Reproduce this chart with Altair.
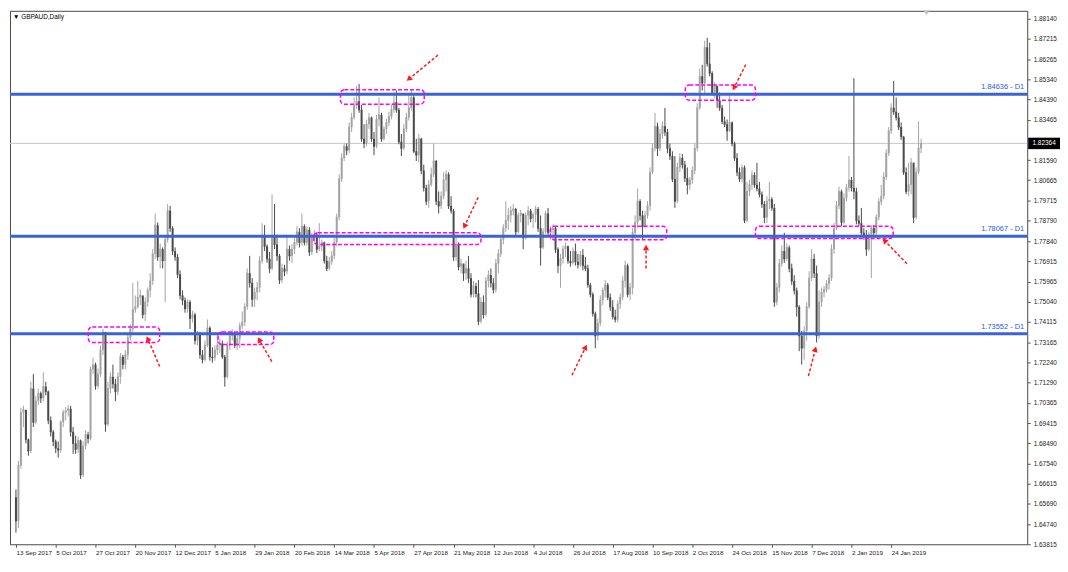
import json
import math
import altair as alt
import pandas as pd

# ---------------- data ----------------
first_open = 1.6599
closes = [
    1.6489, 1.6746, 1.6991, 1.7004, 1.6866, 1.6813, 1.7102, 1.6946, 1.7044, 1.7080,
    1.7058, 1.7111, 1.7088, 1.6955, 1.6902, 1.6857, 1.6826, 1.6817, 1.6946, 1.6991,
    1.6999, 1.7008, 1.6902, 1.6848, 1.6821, 1.6862, 1.6702, 1.6835, 1.6889, 1.6871,
    1.7191, 1.7213, 1.7115, 1.7169, 1.7280, 1.7364, 1.6937, 1.7102, 1.7156, 1.7124,
    1.7088, 1.7156, 1.7249, 1.7213, 1.7258, 1.7337, 1.7378, 1.7467, 1.7480, 1.7524,
    1.7533, 1.7444, 1.7502, 1.7556, 1.7600, 1.7725, 1.7858, 1.7711, 1.7747, 1.7693,
    1.7791, 1.7925, 1.7844, 1.7738, 1.7711, 1.7631, 1.7533, 1.7511, 1.7471, 1.7502,
    1.7426, 1.7444, 1.7324, 1.7355, 1.7258, 1.7236, 1.7302, 1.7382, 1.7249, 1.7245,
    1.7280, 1.7302, 1.7310, 1.7249, 1.7156, 1.7302, 1.7346, 1.7355, 1.7302, 1.7333,
    1.7391, 1.7408, 1.7480, 1.7636, 1.7591, 1.7515, 1.7547, 1.7569, 1.7693, 1.7805,
    1.7760, 1.7702, 1.7658, 1.7809, 1.7769, 1.7716, 1.7604, 1.7658, 1.7645, 1.7747,
    1.7716, 1.7747, 1.7778, 1.7827, 1.7778, 1.7853, 1.7778, 1.7836, 1.7734, 1.7800,
    1.7814, 1.7747, 1.7760, 1.7778, 1.7693, 1.7658, 1.7689, 1.7716, 1.7778, 1.7894,
    1.8072, 1.8169, 1.8223, 1.8205, 1.8312, 1.8356, 1.8414, 1.8431, 1.8392, 1.8258,
    1.8236, 1.8325, 1.8356, 1.8258, 1.8223, 1.8347, 1.8369, 1.8258, 1.8303, 1.8333,
    1.8360, 1.8392, 1.8427, 1.8392, 1.8244, 1.8214, 1.8303, 1.8356, 1.8401, 1.8449,
    1.8200, 1.8182, 1.8258, 1.8111, 1.8031, 1.7969, 1.8045, 1.8094, 1.8155, 1.7969,
    1.7947, 1.7992, 1.8067, 1.8094, 1.7947, 1.7925, 1.7711, 1.7769, 1.7666, 1.7680,
    1.7636, 1.7658, 1.7613, 1.7538, 1.7577, 1.7542, 1.7413, 1.7502, 1.7444, 1.7600,
    1.7627, 1.7591, 1.7560, 1.7680, 1.7725, 1.7791, 1.7844, 1.7880, 1.7903, 1.7925,
    1.7933, 1.7827, 1.7903, 1.7912, 1.7800, 1.7903, 1.7925, 1.7889, 1.7907, 1.7933,
    1.7844, 1.7755, 1.7827, 1.7912, 1.7823, 1.7836, 1.7844, 1.7747, 1.7671, 1.7702,
    1.7747, 1.7760, 1.7693, 1.7684, 1.7738, 1.7689, 1.7675, 1.7720, 1.7671, 1.7658,
    1.7582, 1.7538, 1.7449, 1.7346, 1.7404, 1.7511, 1.7556, 1.7582, 1.7524, 1.7480,
    1.7435, 1.7422, 1.7493, 1.7524, 1.7600, 1.7671, 1.7538, 1.7569, 1.7823, 1.7871,
    1.7969, 1.7903, 1.7853, 1.7903, 1.7947, 1.8103, 1.8214, 1.8316, 1.8214, 1.8280,
    1.8316, 1.8289, 1.8214, 1.8178, 1.8072, 1.7969, 1.8125, 1.8169, 1.8138, 1.8076,
    1.8045, 1.8067, 1.8111, 1.8214, 1.8401, 1.8547, 1.8516, 1.8681, 1.8605, 1.8561,
    1.8472, 1.8503, 1.8436, 1.8401, 1.8338, 1.8325, 1.8294, 1.8333, 1.8236, 1.8169,
    1.8103, 1.8072, 1.8125, 1.7880, 1.8014, 1.8045, 1.8090, 1.8045, 1.8027, 1.8001,
    1.7956, 1.7894, 1.7969, 1.7978, 1.7938, 1.7502, 1.7569, 1.7680, 1.7738, 1.7702,
    1.7755, 1.7658, 1.7600, 1.7556, 1.7480, 1.7346, 1.7289, 1.7369, 1.7480, 1.7613,
    1.7702, 1.7636, 1.7346, 1.7502, 1.7547, 1.7560, 1.7586, 1.7613, 1.7747, 1.7844,
    1.7947, 1.8014, 1.7871, 1.7983, 1.8031, 1.8067, 1.8031, 1.8014, 1.7880, 1.7867,
    1.7823, 1.7805, 1.7747, 1.7814, 1.7844, 1.7823, 1.7894, 1.7965, 1.7992, 1.8081,
    1.8191, 1.8294, 1.8401, 1.8383, 1.8356, 1.8312, 1.8267, 1.8103, 1.8014, 1.8045,
    1.8147, 1.7894, 1.8103, 1.8214, 1.8236,
]
highs = [
    1.6635, 1.6768, 1.7013, 1.7022, 1.6999, 1.6871, 1.7133, 1.7169, 1.7067, 1.7102,
    1.7088, 1.7177, 1.7133, 1.7093, 1.6973, 1.6910, 1.6866, 1.6857, 1.6955, 1.7004,
    1.7017, 1.7026, 1.7022, 1.6924, 1.6884, 1.6880, 1.6866, 1.6857, 1.6910, 1.6902,
    1.7204, 1.7245, 1.7222, 1.7195, 1.7302, 1.7378, 1.7364, 1.7133, 1.7177, 1.7213,
    1.7147, 1.7177, 1.7266, 1.7258, 1.7280, 1.7360, 1.7399, 1.7591, 1.7533, 1.7600,
    1.7560, 1.7524, 1.7524, 1.7569, 1.7636, 1.7747, 1.7912, 1.7871, 1.7773, 1.7755,
    1.7809, 1.7956, 1.7947, 1.7853, 1.7755, 1.7725, 1.7649, 1.7556, 1.7524, 1.7515,
    1.7511, 1.7462, 1.7453, 1.7369, 1.7364, 1.7280, 1.7324, 1.7422, 1.7391, 1.7293,
    1.7302, 1.7360, 1.7333, 1.7324, 1.7258, 1.7319, 1.7364, 1.7378, 1.7364, 1.7351,
    1.7408, 1.7458, 1.7497, 1.7658, 1.7716, 1.7613, 1.7569, 1.7595, 1.7716, 1.7867,
    1.7858, 1.7769, 1.7734, 1.8001, 1.7956, 1.7814, 1.7725, 1.7680, 1.7675, 1.7809,
    1.7764, 1.7769, 1.7800, 1.7853, 1.7844, 1.7912, 1.7862, 1.7853, 1.7849, 1.7823,
    1.7836, 1.7823, 1.7867, 1.7791, 1.7782, 1.7716, 1.7711, 1.7738, 1.7800, 1.7912,
    1.8094, 1.8191, 1.8236, 1.8236, 1.8333, 1.8378, 1.8449, 1.8503, 1.8511, 1.8414,
    1.8325, 1.8347, 1.8378, 1.8360, 1.8289, 1.8369, 1.8449, 1.8378, 1.8316, 1.8351,
    1.8383, 1.8414, 1.8472, 1.8481, 1.8401, 1.8280, 1.8325, 1.8378, 1.8467, 1.8485,
    1.8458, 1.8258, 1.8280, 1.8262, 1.8138, 1.8045, 1.8067, 1.8125, 1.8236, 1.8160,
    1.8014, 1.8014, 1.8103, 1.8111, 1.8103, 1.7992, 1.7933, 1.7805, 1.7778, 1.7702,
    1.7680, 1.7693, 1.7716, 1.7636, 1.7600, 1.7591, 1.7604, 1.7524, 1.7533, 1.7618,
    1.7649, 1.7658, 1.7613, 1.7702, 1.7747, 1.7809, 1.7862, 1.7969, 1.7938, 1.7947,
    1.7956, 1.7938, 1.7916, 1.7929, 1.7889, 1.7916, 1.7947, 1.7933, 1.7916, 1.7947,
    1.7942, 1.7903, 1.7844, 1.7925, 1.7938, 1.7853, 1.7862, 1.7853, 1.7755, 1.7725,
    1.7764, 1.7778, 1.7764, 1.7738, 1.7755, 1.7773, 1.7725, 1.7738, 1.7747, 1.7711,
    1.7675, 1.7591, 1.7547, 1.7458, 1.7426, 1.7533, 1.7569, 1.7604, 1.7591, 1.7542,
    1.7511, 1.7467, 1.7511, 1.7542, 1.7622, 1.7693, 1.7680, 1.7591, 1.7844, 1.7903,
    1.8027, 1.7978, 1.7925, 1.7925, 1.7969, 1.8125, 1.8236, 1.8378, 1.8333, 1.8303,
    1.8338, 1.8401, 1.8303, 1.8236, 1.8200, 1.8178, 1.8147, 1.8191, 1.8187, 1.8155,
    1.8125, 1.8081, 1.8129, 1.8236, 1.8422, 1.8583, 1.8600, 1.8712, 1.8725, 1.8703,
    1.8570, 1.8520, 1.8503, 1.8472, 1.8414, 1.8360, 1.8347, 1.8458, 1.8338, 1.8244,
    1.8191, 1.8125, 1.8138, 1.8134, 1.8058, 1.8067, 1.8111, 1.8103, 1.8147, 1.8058,
    1.8014, 1.7969, 1.7992, 1.8058, 1.7987, 1.7956, 1.7591, 1.7702, 1.7764, 1.7823,
    1.7773, 1.7764, 1.7680, 1.7627, 1.7569, 1.7488, 1.7369, 1.7391, 1.7502, 1.7645,
    1.7747, 1.7725, 1.7671, 1.7556, 1.7569, 1.7577, 1.7604, 1.7631, 1.7769, 1.7867,
    1.7969, 1.8036, 1.8022, 1.8005, 1.8049, 1.8178, 1.8081, 1.8538, 1.8031, 1.7903,
    1.7938, 1.7844, 1.7836, 1.7827, 1.7858, 1.7858, 1.7907, 1.7983, 1.8045, 1.8103,
    1.8209, 1.8312, 1.8422, 1.8525, 1.8449, 1.8378, 1.8333, 1.8271, 1.8125, 1.8147,
    1.8169, 1.8147, 1.8125, 1.8338, 1.8258,
]
lows = [
    1.6435, 1.6457, 1.6732, 1.6924, 1.6848, 1.6791, 1.6804, 1.6924, 1.6937, 1.7026,
    1.7035, 1.7044, 1.7071, 1.6937, 1.6880, 1.6835, 1.6804, 1.6782, 1.6804, 1.6924,
    1.6955, 1.6973, 1.6880, 1.6800, 1.6800, 1.6804, 1.6684, 1.6693, 1.6821, 1.6848,
    1.6862, 1.7169, 1.7097, 1.7102, 1.7156, 1.7258, 1.6902, 1.6928, 1.7080, 1.7102,
    1.7044, 1.7071, 1.7124, 1.7191, 1.7191, 1.7236, 1.7324, 1.7360, 1.7453, 1.7471,
    1.7488, 1.7426, 1.7413, 1.7480, 1.7524, 1.7582, 1.7702, 1.7693, 1.7658, 1.7658,
    1.7502, 1.7778, 1.7827, 1.7720, 1.7693, 1.7613, 1.7515, 1.7488, 1.7453, 1.7453,
    1.7378, 1.7408, 1.7306, 1.7302, 1.7240, 1.7218, 1.7227, 1.7293, 1.7231, 1.7222,
    1.7231, 1.7258, 1.7266, 1.7240, 1.7111, 1.7147, 1.7280, 1.7324, 1.7289, 1.7280,
    1.7289, 1.7378, 1.7391, 1.7467, 1.7569, 1.7480, 1.7480, 1.7511, 1.7547, 1.7680,
    1.7738, 1.7684, 1.7636, 1.7649, 1.7747, 1.7693, 1.7586, 1.7591, 1.7622, 1.7631,
    1.7693, 1.7684, 1.7725, 1.7764, 1.7755, 1.7764, 1.7764, 1.7764, 1.7716, 1.7720,
    1.7778, 1.7729, 1.7738, 1.7738, 1.7680, 1.7645, 1.7649, 1.7675, 1.7702, 1.7760,
    1.7880, 1.8058, 1.8155, 1.8182, 1.8191, 1.8289, 1.8347, 1.8396, 1.8378, 1.8244,
    1.8214, 1.8223, 1.8303, 1.8244, 1.8182, 1.8214, 1.8316, 1.8244, 1.8249, 1.8280,
    1.8316, 1.8347, 1.8378, 1.8378, 1.8232, 1.8178, 1.8205, 1.8289, 1.8342, 1.8387,
    1.8191, 1.8155, 1.8147, 1.8094, 1.8014, 1.7951, 1.7938, 1.8036, 1.8081, 1.7951,
    1.7912, 1.7933, 1.7978, 1.8014, 1.7933, 1.7912, 1.7693, 1.7693, 1.7649, 1.7636,
    1.7600, 1.7604, 1.7591, 1.7524, 1.7524, 1.7524, 1.7395, 1.7404, 1.7426, 1.7435,
    1.7569, 1.7569, 1.7542, 1.7547, 1.7636, 1.7711, 1.7769, 1.7827, 1.7836, 1.7871,
    1.7903, 1.7809, 1.7818, 1.7871, 1.7747, 1.7791, 1.7858, 1.7871, 1.7844, 1.7871,
    1.7827, 1.7671, 1.7747, 1.7814, 1.7809, 1.7791, 1.7787, 1.7729, 1.7636, 1.7569,
    1.7680, 1.7711, 1.7680, 1.7666, 1.7675, 1.7671, 1.7658, 1.7666, 1.7649, 1.7645,
    1.7569, 1.7524, 1.7435, 1.7289, 1.7324, 1.7391, 1.7488, 1.7524, 1.7511, 1.7462,
    1.7422, 1.7408, 1.7408, 1.7471, 1.7511, 1.7569, 1.7524, 1.7511, 1.7538, 1.7791,
    1.7844, 1.7880, 1.7791, 1.7844, 1.7889, 1.7925, 1.8094, 1.8200, 1.8178, 1.8200,
    1.8258, 1.8271, 1.8191, 1.8160, 1.8058, 1.7938, 1.7960, 1.8103, 1.8120, 1.8058,
    1.8001, 1.8022, 1.8049, 1.8094, 1.8200, 1.8392, 1.8481, 1.8467, 1.8592, 1.8547,
    1.8458, 1.8445, 1.8401, 1.8387, 1.8325, 1.8312, 1.8249, 1.8289, 1.8223, 1.8155,
    1.8085, 1.8058, 1.8058, 1.7867, 1.7871, 1.7992, 1.8022, 1.8031, 1.8014, 1.7987,
    1.7938, 1.7867, 1.7867, 1.7933, 1.7925, 1.7480, 1.7488, 1.7547, 1.7666, 1.7684,
    1.7693, 1.7640, 1.7582, 1.7538, 1.7435, 1.7275, 1.7213, 1.7236, 1.7324, 1.7471,
    1.7600, 1.7613, 1.7315, 1.7333, 1.7480, 1.7524, 1.7547, 1.7560, 1.7600, 1.7725,
    1.7836, 1.7933, 1.7853, 1.7862, 1.7969, 1.8014, 1.8014, 1.7978, 1.7862, 1.7853,
    1.7809, 1.7791, 1.7716, 1.7738, 1.7613, 1.7809, 1.7809, 1.7880, 1.7951, 1.7978,
    1.8067, 1.8178, 1.8280, 1.8369, 1.8342, 1.8298, 1.8253, 1.8090, 1.8001, 1.7992,
    1.8001, 1.7867, 1.7885, 1.8094, 1.8191,
]

date_labels = [
    "13 Sep 2017", "5 Oct 2017", "27 Oct 2017", "20 Nov 2017", "12 Dec 2017",
    "5 Jan 2018", "29 Jan 2018", "20 Feb 2018", "14 Mar 2018", "5 Apr 2018",
    "27 Apr 2018", "21 May 2018", "12 Jun 2018", "4 Jul 2018", "26 Jul 2018",
    "17 Aug 2018", "10 Sep 2018", "2 Oct 2018", "24 Oct 2018", "15 Nov 2018",
    "7 Dec 2018", "2 Jan 2019", "24 Jan 2019",
]
bars_per_label = 16

price_ticks = [
    1.63815, 1.64740, 1.65690, 1.66615, 1.67540, 1.68490, 1.69415, 1.70365,
    1.71290, 1.72240, 1.73165, 1.74115, 1.75040, 1.75965, 1.76915, 1.77840,
    1.78790, 1.79715, 1.80665, 1.81590, 1.83465, 1.84390, 1.85340, 1.86265,
    1.87215, 1.88140,
]

level_prices = [1.84636, 1.78067, 1.73552]
level_labels = ["1.84636 - D1", "1.78067 - D1", "1.73552 - D1"]
current_price = 1.82364
symbol_title = "▼ GBPAUD,Daily"
shift_marker_bar = [366.2]

zone_start = [29.1, 81.3, 130.5, 119.8, 214.9, 269.2, 297.4]
zone_end = [57.8, 103.7, 164.2, 187.0, 261.7, 297.4, 352.8]
zone_top = [1.7387, 1.7364, 1.8485, 1.7823, 1.7853, 1.8507, 1.7853]
zone_bottom = [1.7315, 1.7306, 1.8418, 1.7769, 1.7791, 1.8436, 1.7796]

arrow_tail_bar = [57.8, 102.9, 169.7, 185.9, 253.4, 293.5, 358.3, 223.6, 318.7]
arrow_tail_price = [1.7204, 1.7227, 1.8645, 1.7987, 1.7658, 1.8601, 1.7680, 1.7164, 1.7160]
arrow_head_bar = [53.0, 97.8, 158.0, 180.4, 253.4, 288.8, 349.3, 229.1, 321.5]
arrow_head_price = [1.7333, 1.7328, 1.8534, 1.7853, 1.7755, 1.8494, 1.7787, 1.7293, 1.7284]

# ---------------- layout / styles ----------------
W, H = 1024, 537
X_DOMAIN = [-0.4, 404.7]
Y_DOMAIN = [1.63815, 1.8850]
FONT = "Liberation Sans"
BLUE = "#3b63d6"
BLUE_TEXT = "#2e5ae6"
MAGENTA = "#ff00ff"
RED = "#ff1a1a"

opens = [first_open] + closes[:-1]
candles = pd.DataFrame({
    "i": list(range(len(closes))),
    "open": opens,
    "close": closes,
    "high": highs,
    "low": lows,
})
candles["dir"] = ["up" if c >= o else "down" for o, c in zip(opens, closes)]

xs = alt.Scale(domain=X_DOMAIN, nice=False, zero=False)
ys = alt.Scale(domain=Y_DOMAIN, nice=False, zero=False)

label_js = json.dumps(date_labels)
x_axis = alt.Axis(
    orient="bottom", values=[k * bars_per_label for k in range(len(date_labels))],
    labelExpr=f"{label_js}[round(datum.value / {bars_per_label})]",
    labelAlign="left", labelBaseline="top", labelPadding=2, labelFontSize=6.3,
    labelColor="#222222", labelFont=FONT, tickSize=3, tickColor="#555555",
    domain=False, grid=False, title=None, labelOverlap=False, labelFlush=False,
    labelBound=False,
)
y_axis = alt.Axis(
    orient="right", values=price_ticks, format=".5f", labelFontSize=6.5,
    labelColor="#222222", labelFont=FONT, tickSize=3, tickColor="#555555",
    labelPadding=3, domain=False, grid=False, title=None, labelOverlap=False,
)


def X(field):
    return alt.X(field, type="quantitative", scale=xs, axis=x_axis)


def Y(field):
    return alt.Y(field, type="quantitative", scale=ys, axis=y_axis)


up_down = alt.Scale(domain=["up", "down"], range=["#bdbdbd", "#363636"])
wick_scale = alt.Scale(domain=["up", "down"], range=["#a3a3a3", "#4a4a4a"])

base = alt.Chart(candles)
wicks = base.mark_rule(strokeWidth=1).encode(
    x=X("i"), y=Y("low"), y2="high:Q",
    color=alt.Color("dir:N", scale=wick_scale, legend=None),
)
bodies = base.mark_bar(size=2).encode(
    x=X("i"), y=Y("open"), y2="close:Q",
    color=alt.Color("dir:N", scale=up_down, legend=None),
)
close_ticks = base.mark_tick(orient="horizontal", size=2, thickness=1).encode(
    x=X("i"), y=Y("close"),
    color=alt.Color("dir:N", scale=up_down, legend=None),
)

cur_df = pd.DataFrame({"price": [current_price], "label": [f"{current_price:.5f}"]})
cur_line = alt.Chart(cur_df).mark_rule(color="#c8c8c8", strokeWidth=1).encode(y=Y("price"))
cur_box = alt.Chart(cur_df).mark_point(
    shape="M-1,-0.36H1V0.36H-1Z", size=1024, filled=True, color="#000000", opacity=1
).encode(x=alt.value(W + 17), y=Y("price"))
cur_text = alt.Chart(cur_df).mark_text(
    color="#ffffff", fontSize=6.5, font=FONT, align="center", baseline="middle"
).encode(x=alt.value(W + 17), y=Y("price"), text="label:N")

lvl_df = pd.DataFrame({"price": level_prices, "label": level_labels})
lvl_lines = alt.Chart(lvl_df).mark_rule(color=BLUE, strokeWidth=3).encode(y=Y("price"))
lvl_text = alt.Chart(lvl_df).mark_text(
    color=BLUE_TEXT, fontSize=7.5, font=FONT, align="right", baseline="bottom", dy=-3
).encode(x=alt.value(W - 3), y=Y("price"), text="label:N")

zone_df = pd.DataFrame({"x0": zone_start, "x1": zone_end, "p0": zone_top, "p1": zone_bottom})
zones = alt.Chart(zone_df).mark_rect(
    fillOpacity=0, stroke=MAGENTA, strokeWidth=1.5, strokeDash=[4, 2], cornerRadius=4
).encode(x=X("x0"), x2="x1:Q", y=Y("p0"), y2="p1:Q")

px_bar = W / (X_DOMAIN[1] - X_DOMAIN[0])
px_price = H / (Y_DOMAIN[1] - Y_DOMAIN[0])
angles = []
for tb, tp, hb, hp in zip(arrow_tail_bar, arrow_tail_price, arrow_head_bar, arrow_head_price):
    dx = (hb - tb) * px_bar
    dy = -(hp - tp) * px_price
    angles.append(math.degrees(math.atan2(dx, -dy)) % 360)
arrow_df = pd.DataFrame({
    "tb": arrow_tail_bar, "tp": arrow_tail_price,
    "hb": arrow_head_bar, "hp": arrow_head_price, "ang": angles,
})
arrows = alt.Chart(arrow_df).mark_rule(color=RED, strokeWidth=1.5, strokeDash=[3, 2]).encode(
    x=X("tb"), x2="hb:Q", y=Y("tp"), y2="hp:Q",
)
heads = alt.Chart(arrow_df).mark_point(
    shape="triangle-up", size=40, filled=True, color=RED, opacity=1
).encode(x=X("hb"), y=Y("hp"), angle=alt.Angle("ang:Q", scale=None))

title_df = pd.DataFrame({"t": [symbol_title]})
title = alt.Chart(title_df).mark_text(
    fontSize=6.5, font=FONT, color="#000000", align="left", baseline="middle"
).encode(x=alt.value(3), y=alt.value(6), text="t:N")

shift_df = pd.DataFrame({"b": shift_marker_bar})
shift_marker = alt.Chart(shift_df).mark_point(
    shape="triangle-down", size=30, filled=True, color="#c0c0c0", opacity=1
).encode(x=X("b"), y=alt.value(2))

chart = alt.layer(
    cur_line, wicks, bodies, close_ticks, lvl_lines, zones, arrows, heads,
    lvl_text, cur_box, cur_text, title, shift_marker,
).properties(
    width=W, height=H, padding=0, background="#ffffff"
).configure_view(
    stroke="#4a4a4a", strokeWidth=1
)

chart.save("out.html", embed_options={"renderer": "svg", "actions": False})
